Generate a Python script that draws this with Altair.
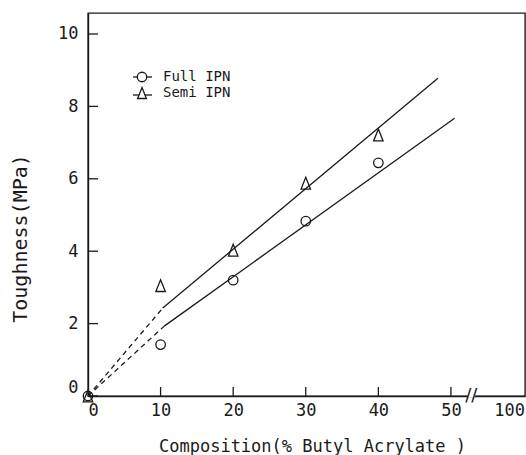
import altair as alt
import pandas as pd

# ---------------- data ----------------
series_names = ["Full IPN", "Semi IPN"]
composition = [0, 10, 20, 30, 40]
full_ipn = [0.0, 1.42, 3.20, 4.83, 6.44]
semi_ipn = [0.0, 3.05, 4.03, 5.88, 7.21]

# fitted curves (solid part) and dashed extrapolation to the origin
full_fit_x = [10.5, 50.5]
full_fit_y = [1.93, 7.67]
semi_fit_x = [10.3, 48.2]
semi_fit_y = [2.43, 8.78]
full_ext_x = [0, 10.5]
full_ext_y = [0, 1.93]
semi_ext_x = [0, 10.3]
semi_ext_y = [0, 2.43]

x_label_values = [0, 10, 20, 30, 40, 50, 58]
x_label_texts = ["0", "10", "20", "30", "40", "50", "100"]
x_tick_marks = [10, 20, 30, 40, 50]
y_tick_values = [0, 2, 4, 6, 8, 10]
x_break_at = [52.8]

x_title = "Composition(% Butyl Acrylate )"
y_title = "Toughness(MPa)"

# ---------------- layout ----------------
W, H = 437, 383
FONT = "DejaVu Sans Mono"
INK = "#1a1a1a"
TRI = "M0,-1L0.8,1L-0.8,1Z"

label_expr = "datum.label"
for v, t in reversed(list(zip(x_label_values, x_label_texts))):
    if str(v) != t:
        label_expr = f"datum.value == {v} ? '{t}' : " + label_expr

x_scale = alt.Scale(domain=[0, 60.2], nice=False, zero=False)
y_scale = alt.Scale(domain=[0, 10.58], nice=False, zero=False)

common_axis = dict(grid=False, ticks=False, tickSize=0, domainColor=INK, domainWidth=1.4,
                   labelColor=INK, titleColor=INK, labelFont=FONT, titleFont=FONT,
                   titleFontWeight="normal")
x_axis = alt.Axis(values=x_label_values, labelExpr=label_expr,
                  labelPadding=6, labelFontSize=17, titleFontSize=17,
                  titleX=224, titleY=50, titleBaseline="middle", titleAnchor="start",
                  titleAlign="center", **common_axis)
y_axis = alt.Axis(values=y_tick_values, labelPadding=10,
                  labelFontSize=17, labelFlush=True, titleFontSize=20,
                  titleX=-68, titleY=225, titleBaseline="middle", titleAlign="center",
                  titleAngle=270, **common_axis)


def X(field="x"):
    return alt.X(f"{field}:Q", scale=x_scale, axis=x_axis, title=x_title)


def Y():
    return alt.Y("y:Q", scale=y_scale, axis=y_axis, title=y_title)


pts = pd.DataFrame({
    "x": composition * 2,
    "y": full_ipn + semi_ipn,
    "series": [series_names[0]] * len(composition) + [series_names[1]] * len(composition),
})
fits = pd.DataFrame({
    "x": full_fit_x + semi_fit_x,
    "y": full_fit_y + semi_fit_y,
    "series": [series_names[0]] * 2 + [series_names[1]] * 2,
})
exts = pd.DataFrame({
    "x": full_ext_x + semi_ext_x,
    "y": full_ext_y + semi_ext_y,
    "series": [series_names[0]] * 2 + [series_names[1]] * 2,
})

shape_scale = alt.Scale(domain=series_names, range=["circle", TRI])

solid = alt.Chart(fits).mark_line(color=INK, strokeWidth=1.3).encode(
    x=X(), y=Y(), detail="series:N")
dashed = alt.Chart(exts).mark_line(color=INK, strokeWidth=1.3, strokeDash=[5, 4]).encode(
    x=X(), y=Y(), detail="series:N")
points = alt.Chart(pts).mark_point(filled=False, color=INK, strokeWidth=1.3, opacity=1).encode(
    x=X(), y=Y(),
    shape=alt.Shape("series:N", scale=shape_scale, legend=None),
    size=alt.Size("series:N", scale=alt.Scale(domain=series_names, range=[90, 140]), legend=None),
)

xt = alt.Chart(pd.DataFrame({"x": x_tick_marks})).mark_rule(color=INK, strokeWidth=1.3).encode(
    x=X(), y=alt.value(H), y2=alt.value(H - 9))
yt = alt.Chart(pd.DataFrame({"y": y_tick_values})).mark_rule(color=INK, strokeWidth=1.3).encode(
    y=Y(), x=alt.value(0), x2=alt.value(10))

brk_df = pd.DataFrame({"x": x_break_at, "y": [0] * len(x_break_at), "s": ["//"] * len(x_break_at)})
brk_gap = alt.Chart(brk_df).transform_calculate(x0="datum.x - 0.5", x1="datum.x + 0.5").mark_rule(
    color="white", strokeWidth=3).encode(
    x=X("x0"), x2="x1:Q", y=Y())
brk = alt.Chart(brk_df).mark_text(font="DejaVu Sans", fontSize=18, color=INK,
                                  align="center", baseline="middle").encode(
    x=X(), y=Y(), text="s:N")

# ---------------- hand-drawn legend ----------------
legend_layers = []
for i, name in enumerate(series_names):
    ly = 64 + 16 * i
    d = pd.DataFrame({"label": [name]})
    legend_layers.append(alt.Chart(d).mark_rule(color=INK, strokeWidth=1.3).encode(
        x=alt.value(45), x2=alt.value(64), y=alt.value(ly + (0 if i == 0 else 2))))
    legend_layers.append(alt.Chart(d).mark_point(
        filled=True, fill="white", stroke=INK, strokeWidth=1.3, opacity=1,
        shape="circle" if i == 0 else TRI, size=90 if i == 0 else 120).encode(
        x=alt.value(54), y=alt.value(ly)))
    legend_layers.append(alt.Chart(d).mark_text(
        font=FONT, fontSize=14, color=INK, align="left", baseline="middle").encode(
        x=alt.value(75), y=alt.value(ly), text="label:N"))

chart = alt.layer(dashed, solid, points, xt, yt, brk_gap, brk, *legend_layers).properties(
    width=W, height=H,
    background="white",
    autosize=alt.AutoSizeParams(type="none"),
    padding={"left": 88, "top": 13, "right": 1, "bottom": 59},
).configure_view(stroke=INK, strokeWidth=1.4)

chart.save("out.html", embed_options={"renderer": "svg", "actions": False})
